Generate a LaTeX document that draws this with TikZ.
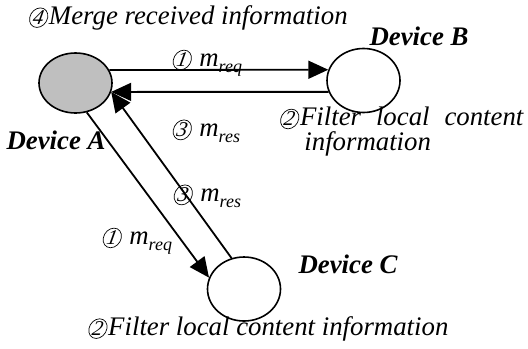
\documentclass[tikz,border=0pt]{standalone}
\usepackage{fontspec}
\setmainfont{Liberation Serif}
\usetikzlibrary{shapes.geometric, arrows.meta, positioning}
% thin circled step number, slanted like the italic text round it
\newcommand{\stepno}[1]{\tikz[baseline=(d.base)]
	\node[ellipse, draw, line width=0.35pt, inner sep=0pt, minimum width=9pt, minimum height=9.6pt,
		font=\fontsize{10.5}{10}\selectfont\itshape, xslant=0.18] (d) {#1};}
\newcommand{\msg}[1]{\textit{m}\raisebox{-0.45ex}{\fontsize{9}{9}\selectfont\itshape #1}}

\begin{document}
\begin{tikzpicture}[
	x=0.5pt, y=-0.5pt,
	% Styles
	dev/.style = {draw, ellipse, line width=0.8pt, inner sep=0pt, minimum width=36.5pt, minimum height=32pt},
	lbl/.style = {font=\fontsize{13.4}{12.5}\selectfont\itshape, inner sep=1pt},
	devname/.style = {font=\fontsize{13.4}{16}\selectfont\bfseries\itshape, inner sep=1pt},
	msg arrow/.style = {line width=0.9pt, -{Triangle[length=10pt, width=9pt]}}
	]
	\useasboundingbox (0,0) rectangle (528,348);

	% Devices
	\node[dev, fill=gray!50, minimum height=30pt] (devA) at (75.5,83) {};
	\node[dev] (devB) at (363.5,80.5) {};
	\node[dev] (devC) at (244,289) {};

	% Device names
	\node[devname] (nameA) at (56,140) {Device A};
	\node[devname] (nameB) at (419,36) {Device B};
	\node[devname] (nameC) at (348,264) {Device C};

	% Steps
	\node[lbl, anchor=west, align=left] (filterB) at (277,132)
		{\makebox[122pt][s]{\stepno{2}Filter local content}\\\hspace*{12.5pt}information};
	\node[lbl] (merge) at (188,18) {\stepno{4}Merge received information};
	\node[lbl] (filterC) at (268,329) {\stepno{2}Filter local content information};

	% Messages between A and B
	\draw[msg arrow] (devA.21.6) -- (devB.163);
	\draw[msg arrow] (devB.198.6) -- (devA.-14.5);
	\node[lbl] (reqB) at (207,63) {\stepno{1}~\msg{req}};
	\node[lbl] (resB) at (206,131) {\stepno{3}~\msg{res}};

	% Messages between A and C
	\draw[msg arrow] (devA.-69) -- (devC.162);
	\draw[msg arrow] (devC.112) -- (devA.-14.5);
	\node[lbl] (reqC) at (137,241) {\stepno{1}~\msg{req}};
	\node[lbl] (resC) at (207,196) {\stepno{3}~\msg{res}};
\end{tikzpicture}
\end{document}
